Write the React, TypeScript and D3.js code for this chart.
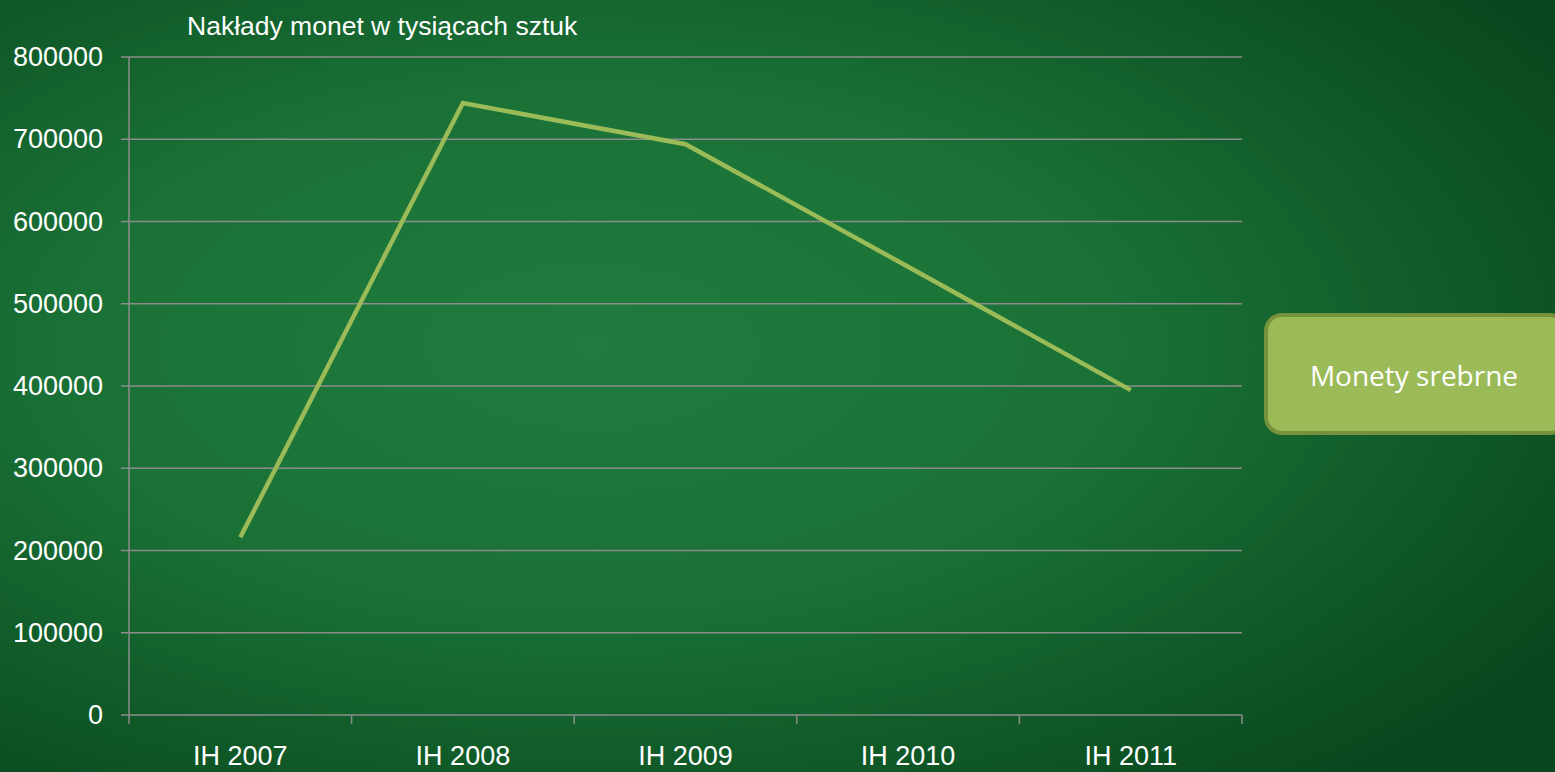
import React from "react";
import * as d3 from "d3";

const categories = ["IH 2007", "IH 2008", "IH 2009", "IH 2010", "IH 2011"];
const values = [216000, 744000, 694000, 545000, 395000];
const yTicks = [0, 100000, 200000, 300000, 400000, 500000, 600000, 700000, 800000];
const title = "Nakłady monet w tysiącach sztuk";
const seriesName = "Monety srebrne";

export default function App() {
  const W = 1555, H = 772;
  const left = 129, right = 1242, top = 57, bottom = 715;
  const x = d3.scaleBand<string>().domain(categories).range([left, right]).padding(0);
  const y = d3.scaleLinear().domain([0, 800000]).range([bottom, top]);
  const line = d3.line<number>()
    .x((_, i) => (x(categories[i]) as number) + x.bandwidth() / 2)
    .y((d) => y(d));
  const font = "'Liberation Sans', Arial, sans-serif";
  const grid = "#8c8c8c";
  const bounds = categories.map((c) => x(c) as number).concat([right]);
  return (
    <svg width={W} height={H} style={{ position: "absolute", left: 0, top: 0, display: "block" }}>
      <defs>
        <radialGradient id="bg" cx="0.38" cy="0.45" r="0.75" gradientUnits="objectBoundingBox">
          <stop offset="0" stopColor="#1f7c3e" />
          <stop offset="0.45" stopColor="#1a7136" />
          <stop offset="0.8" stopColor="#0e5525" />
          <stop offset="1" stopColor="#08461d" />
        </radialGradient>
      </defs>
      <rect x={0} y={0} width={W} height={H} fill="url(#bg)" />
      <text x={187} y={35} fill="#ffffff" fontFamily={font} fontSize={26.5}>{title}</text>
      {yTicks.map((t) => (
        <g key={t}>
          <line x1={left - 8} x2={right} y1={y(t)} y2={y(t)} stroke={grid} strokeWidth={1.5} />
          <text x={103} y={y(t) + 9} textAnchor="end" fill="#ffffff" fontFamily={font} fontSize={27}>{t}</text>
        </g>
      ))}
      <line x1={left} x2={left} y1={top} y2={bottom} stroke={grid} strokeWidth={1.5} />
      {bounds.map((b, i) => (
        <line key={i} x1={b} x2={b} y1={bottom} y2={bottom + 9} stroke={grid} strokeWidth={1.5} />
      ))}
      {categories.map((c) => (
        <text key={c} x={(x(c) as number) + x.bandwidth() / 2} y={765} textAnchor="middle" fill="#ffffff" fontFamily={font} fontSize={27}>{c}</text>
      ))}
      <path d={line(values) || ""} fill="none" stroke="#9bbb59" strokeWidth={4.5} strokeLinejoin="miter" />
      <rect x={1266} y={315} width={300} height={118} rx={16} ry={16} fill="#9bbb59" stroke="#76923c" strokeWidth={4} />
      <text x={1414} y={386} textAnchor="middle" fill="#ffffff" fontFamily="'Open Sans', 'Noto Sans', sans-serif" fontSize={28}>{seriesName}</text>
    </svg>
  );
}
